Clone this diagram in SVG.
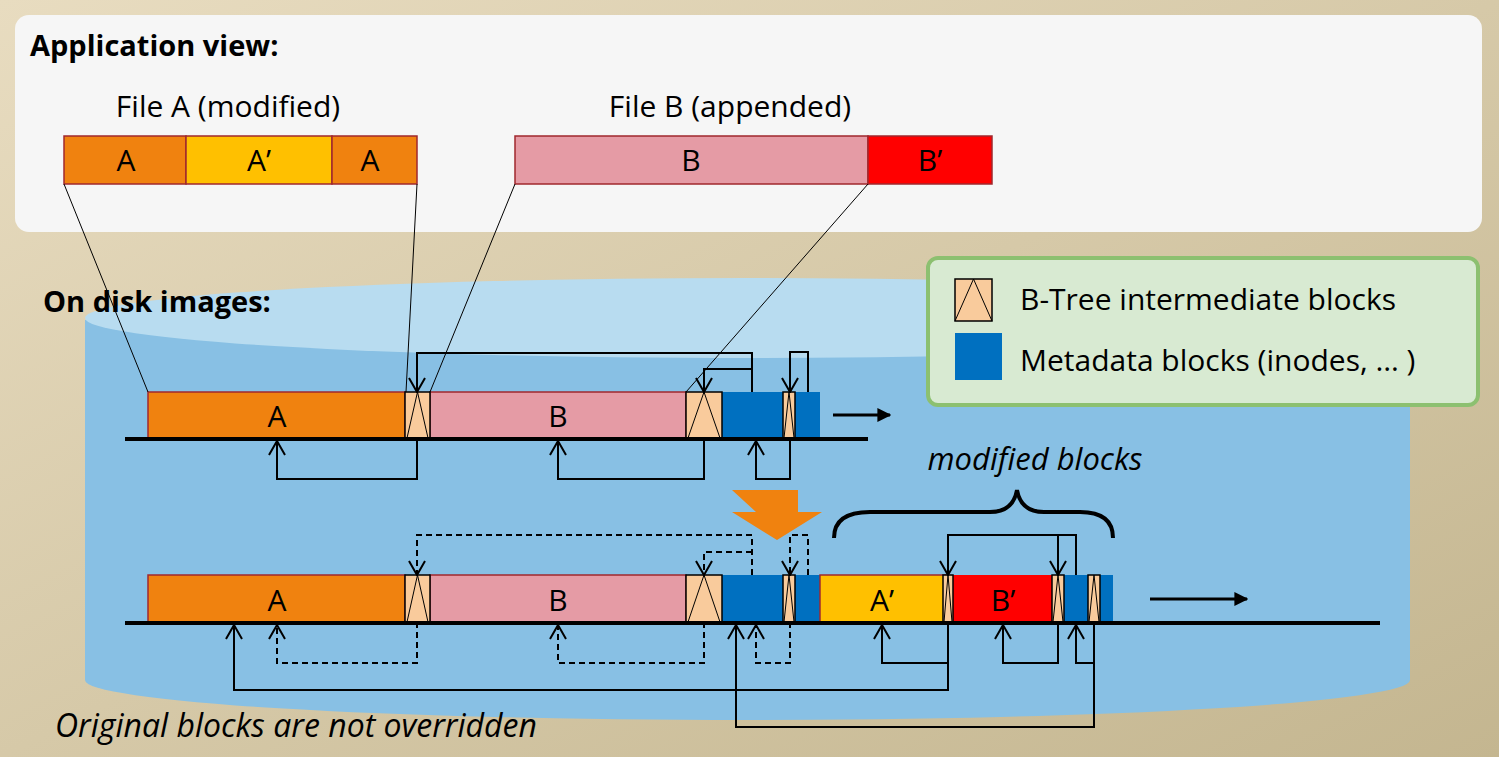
<svg xmlns="http://www.w3.org/2000/svg" width="1499" height="757" viewBox="0 0 1499 757">
<defs>
<linearGradient id="bg" x1="0" y1="0" x2="1" y2="1"><stop offset="0" stop-color="#e8dcc0"/><stop offset="1" stop-color="#c4b690"/></linearGradient>
<marker id="ar" viewBox="0 0 16 18" refX="15" refY="9" markerWidth="16" markerHeight="18" markerUnits="userSpaceOnUse" orient="auto"><path d="M1,1 L15,9 L1,17" fill="none" stroke="#000" stroke-width="2"/></marker>
<marker id="ah" viewBox="0 0 10 10" refX="9" refY="5" markerWidth="14" markerHeight="14" markerUnits="userSpaceOnUse" orient="auto"><path d="M0,0 L10,5 L0,10 z" fill="#000"/></marker>
</defs>
<style>
text{font-family:"Open Sans","Liberation Sans",sans-serif;fill:#000}
.c{stroke:#000;stroke-width:2;fill:none}
.d{stroke:#000;stroke-width:2;fill:none;stroke-dasharray:6 4}
.u{marker-end:url(#ar)}
.bt{fill:#f9cb9c;stroke:#000;stroke-width:1.5}
.md{fill:#0070c0}
.th{stroke:#000;stroke-width:1;fill:none}
.lbl{font-size:30px;text-anchor:middle}
</style>
<rect width="1499" height="757" fill="url(#bg)"/>
<g id="cylinder">
<path d="M85,320 L85,680 A662,40 0 0 0 1410,680 L1410,320 Z" fill="#88c0e4"/>
<ellipse cx="747" cy="318" rx="662" ry="40" fill="#b8dcf0"/>
</g>
<g id="appview">
<rect x="15" y="15" width="1467" height="217" rx="14" fill="#f6f6f6"/>
<text x="30" y="56" font-size="29" font-weight="bold">Application view:</text>
<text x="228" y="117" class="lbl" font-size="32">File A (modified)</text>
<text x="730" y="117" class="lbl" font-size="32">File B (appended)</text>
<rect x="64" y="136" width="122" height="48" fill="#f0820f" stroke="#a0282e" stroke-width="1.5"/>
<rect x="186" y="136" width="146" height="48" fill="#ffc000" stroke="#a0282e" stroke-width="1.5"/>
<rect x="332" y="136" width="85" height="48" fill="#f0820f" stroke="#a0282e" stroke-width="1.5"/>
<rect x="515" y="136" width="353" height="48" fill="#e59ba5" stroke="#a0282e" stroke-width="1.5"/>
<rect x="868" y="136" width="124" height="48" fill="#ff0000" stroke="#a0282e" stroke-width="1.5"/>
<text x="126" y="171" class="lbl">A</text><text x="259" y="171" class="lbl">A’</text><text x="370" y="171" class="lbl">A</text>
<text x="691" y="171" class="lbl">B</text><text x="930" y="171" class="lbl">B’</text>
</g>
<text x="43" y="312" font-size="29" font-weight="bold">On disk images:</text>
<g id="legend">
<rect x="928" y="258" width="550" height="147" rx="10" fill="#d8ead2" stroke="#8cc070" stroke-width="4"/>
<rect x="955" y="279" width="37" height="42" class="bt"/><path d="M955,321 L973.5,279 L992,321" class="th" stroke-width="1.5"/>
<rect x="955" y="333" width="47" height="47" class="md"/>
<text x="1020" y="310" font-size="30">B-Tree intermediate blocks</text>
<text x="1020" y="371" font-size="30">Metadata blocks (inodes, … )</text>
</g>
<g id="disk1">
<rect x="148" y="392" width="257" height="46" fill="#f0820f" stroke="#a0282e" stroke-width="1.5"/>
<rect x="430" y="392" width="256" height="46" fill="#e59ba5" stroke="#a0282e" stroke-width="1.5"/>
<rect x="722" y="392" width="61" height="46" class="md"/><rect x="795" y="392" width="25" height="46" class="md"/>
<rect x="405" y="392" width="25" height="46" class="bt"/><path d="M407,438 L417.5,392 L428,438" class="th" stroke-width="1.5"/>
<rect x="686" y="392" width="36" height="46" class="bt"/><path d="M688,438 L704,392 L720,438" class="th" stroke-width="1.5"/>
<rect x="783" y="392" width="12" height="46" class="bt"/><path d="M784,438 L789,392 L794,438" class="th" stroke-width="1.5"/>
<text x="277" y="427" class="lbl">A</text><text x="558" y="427" class="lbl">B</text>
<line x1="125" y1="439" x2="868" y2="439" stroke="#000" stroke-width="4"/>
<line x1="833" y1="415" x2="890" y2="415" stroke="#000" stroke-width="3" marker-end="url(#ah)"/>
</g>
<g id="disk2">
<rect x="148" y="575" width="257" height="47" fill="#f0820f" stroke="#a0282e" stroke-width="1.5"/>
<rect x="430" y="575" width="256" height="47" fill="#e59ba5" stroke="#a0282e" stroke-width="1.5"/>
<rect x="722" y="575" width="61" height="47" class="md"/><rect x="795" y="575" width="25" height="47" class="md"/>
<rect x="820" y="575" width="126" height="47" fill="#ffc000" stroke="#a0282e" stroke-width="1.5"/>
<rect x="953" y="575" width="99" height="47" fill="#ff0000"/>
<rect x="1064" y="575" width="24" height="47" class="md"/><rect x="1100" y="575" width="13" height="47" class="md"/>
<rect x="405" y="575" width="25" height="47" class="bt"/><path d="M407,622 L417.5,575 L428,622" class="th" stroke-width="1.5"/>
<rect x="686" y="575" width="36" height="47" class="bt"/><path d="M688,622 L704,575 L720,622" class="th" stroke-width="1.5"/>
<rect x="783" y="575" width="12" height="47" class="bt"/><path d="M784,622 L789,575 L794,622" class="th" stroke-width="1.5"/>
<rect x="943" y="575" width="10" height="47" class="bt"/><path d="M944,622 L948,575 L952,622" class="th" stroke-width="1.5"/>
<rect x="1052" y="575" width="12" height="47" class="bt"/><path d="M1053,622 L1058,575 L1063,622" class="th" stroke-width="1.5"/>
<rect x="1088" y="575" width="12" height="47" class="bt"/><path d="M1089,622 L1094,575 L1099,622" class="th" stroke-width="1.5"/>
<text x="277" y="611" class="lbl">A</text><text x="558" y="611" class="lbl">B</text>
<text x="882" y="611" class="lbl">A’</text><text x="1003" y="611" class="lbl">B’</text>
<line x1="125" y1="623" x2="1380" y2="623" stroke="#000" stroke-width="4"/>
<line x1="1150" y1="599" x2="1247" y2="599" stroke="#000" stroke-width="3" marker-end="url(#ah)"/>
</g>
<g id="annotations">
<path d="M732,490 L798,490 L798,512 L822,512 L777,540 L732,512 L756,512 Z" fill="#f0820f"/>
<path d="M834,538 Q834,512 870,512 L990,512 Q1013,512 1017,490 Q1021,512 1044,512 L1080,512 Q1113,512 1113,538" fill="none" stroke="#000" stroke-width="4"/>
<text x="1035" y="470" font-size="31" font-style="italic" text-anchor="middle">modified blocks</text>
<text x="55" y="737" font-size="32" font-style="italic">Original blocks are not overridden</text>
</g>
<g id="connectors">
<line x1="64" y1="184" x2="148" y2="392" class="th"/>
<line x1="417" y1="184" x2="406" y2="392" class="th"/>
<line x1="515" y1="184" x2="430" y2="392" class="th"/>
<line x1="868" y1="184" x2="686" y2="392" class="th"/>
<path d="M752,392 V353 H417 V392" class="c u"/>
<path d="M752,369 H704 V392" class="c u"/>
<path d="M808,392 V352 H790 V392" class="c u"/>
<path d="M417,438 V479 H277 V441" class="c u"/>
<path d="M704,438 V479 H558 V441" class="c u"/>
<path d="M790,438 V479 H756 V441" class="c u"/>
<path d="M752,575 V535 H417 V575" class="d u"/>
<path d="M752,552 H704 V575" class="d u"/>
<path d="M808,575 V535 H790 V575" class="d u"/>
<path d="M417,622 V663 H277 V625" class="d u"/>
<path d="M704,622 V663 H558 V625" class="d u"/>
<path d="M790,622 V663 H756 V625" class="d u"/>
<path d="M1076,575 V535 H948 V575" class="c u"/>
<path d="M1058,535 V575" class="c u"/>
<path d="M948,622 V663 H882 V625" class="c u"/>
<path d="M948,622 V690 H234 V625" class="c u"/>
<path d="M1058,622 V663 H1003 V625" class="c u"/>
<path d="M1094,622 V727 H736 V625" class="c u"/>
<path d="M1094,622 V663 H1076 V625" class="c u"/>
</g>
</svg>
